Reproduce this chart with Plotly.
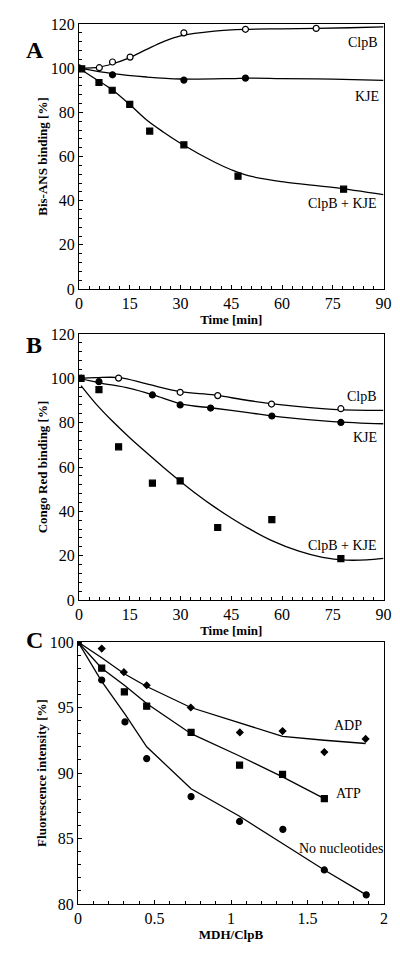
import plotly.graph_objects as go

# ---------- Panel A: Bis-ANS binding ----------
a_clpb_x = [0, 6, 9.9, 15.1, 31, 49.2, 70.1]
a_clpb_y = [100, 100.2, 102.8, 105, 116, 117.6, 118]
a_kje_x = [0, 9.9, 31, 49.2]
a_kje_y = [100, 97, 94.6, 95.5]
a_both_x = [0.8, 5.9, 9.8, 15, 20.9, 31, 47, 78.2]
a_both_y = [99.7, 93.5, 90, 83.6, 71.5, 65.3, 51.1, 45.2]
# fitted curves
a_clpb_fit_x = [0, 6, 10, 15, 20, 25, 30, 40, 50, 60, 70, 80, 90]
a_clpb_fit_y = [100, 100.5, 102, 104.8, 108.5, 112, 114.6, 116.8, 117.6, 117.8, 118, 118.3, 118.7]
a_kje_fit_x = [0, 10, 20, 30, 45, 50, 60, 75, 90]
a_kje_fit_y = [100, 97.5, 96, 95.1, 95.3, 95.5, 95.3, 95, 94.5]
a_both_fit_x = [0, 5, 10, 15, 20, 25, 30, 40, 45, 50, 60, 75, 90]
a_both_fit_y = [100, 95, 90, 83.5, 76.5, 71, 66, 57.5, 54, 51.3, 48.6, 46, 42.7]

# ---------- Panel B: Congo Red binding ----------
b_clpb_x = [0.6, 11.7, 29.9, 41, 56.9, 77.4]
b_clpb_y = [100, 100.1, 93.7, 92.2, 88.4, 86.3]
b_kje_x = [0.6, 5.9, 21.7, 29.9, 38.9, 57, 77.4]
b_kje_y = [100, 98.5, 92.5, 88, 86.6, 83, 80.1]
b_both_x = [0.6, 5.9, 11.7, 21.7, 29.9, 41, 57, 77.4]
b_both_y = [100, 94.9, 69.1, 52.7, 53.7, 32.7, 36.3, 18.7]
b_clpb_fit_x = [0, 5, 12, 20, 30, 40, 50, 60, 75, 90]
b_clpb_fit_y = [100, 100.3, 100.3, 97.5, 94, 92.5, 90, 88, 86, 85.5]
b_kje_fit_x = [0, 6, 15, 22, 30, 40, 50, 60, 75, 90]
b_kje_fit_y = [100, 98, 95.5, 92.5, 88.5, 86.5, 84.5, 82.5, 80.5, 79.5]
b_both_fit_x = [0.6, 5, 10, 15, 20, 25, 30, 35, 40, 45, 50, 57, 65, 72, 79, 85, 90]
b_both_fit_y = [96.7, 88.5, 80.5, 73.2, 66.4, 59.8, 53.5, 47.5, 42.0, 37.0, 32.4, 26.8, 22.0, 19.2, 18.0, 18.1, 18.8]

# ---------- Panel C: Fluorescence intensity ----------
c_adp_x = [0, 0.155, 0.30, 0.449, 0.737, 1.058, 1.337, 1.61, 1.88]
c_adp_y = [100, 99.5, 97.7, 96.7, 95.0, 93.1, 93.2, 91.6, 92.6]
c_atp_x = [0, 0.155, 0.303, 0.449, 0.739, 1.056, 1.337, 1.61]
c_atp_y = [100, 98.0, 96.2, 95.1, 93.1, 90.6, 89.9, 88.05]
c_none_x = [0, 0.155, 0.307, 0.449, 0.739, 1.056, 1.339, 1.61, 1.884]
c_none_y = [100, 97.1, 93.9, 91.1, 88.2, 86.3, 85.7, 82.6, 80.7]
c_adp_fit_y = [100, 98.8, 97.6, 96.6, 95.0, 93.8, 92.8, 92.5, 92.25]
c_atp_fit_y = [100, 98.0, 96.7, 95.3, 93.0, 91.3, 89.7, 88.05]
c_none_fit_y = [100, 97.0, 94.5, 92.0, 88.8, 86.7, 84.6, 82.6, 80.7]

FONT = "Liberation Serif, Times New Roman, Times, serif"
W, H, OFF = 392, 949, 8  # page body has an 8px margin


def px(x):
    return (x - OFF) / W


def py(y):
    return 1 - (y - OFF) / H


fig = go.Figure()


def line(x, y, xa, ya, shape="spline"):
    fig.add_trace(go.Scatter(x=x, y=y, mode="lines", xaxis=xa, yaxis=ya,
                             line=dict(color="black", width=1.3, shape=shape, smoothing=1.0),
                             showlegend=False, hoverinfo="skip"))


def pts(x, y, xa, ya, symbol, size, open_=False):
    fig.add_trace(go.Scatter(x=x, y=y, mode="markers", xaxis=xa, yaxis=ya,
                             marker=dict(symbol=symbol, size=size,
                                         color="white" if open_ else "black",
                                         line=dict(color="black", width=1.2)),
                             showlegend=False))


# A
line(a_clpb_fit_x, a_clpb_fit_y, "x", "y")
line(a_kje_fit_x, a_kje_fit_y, "x", "y")
line(a_both_fit_x, a_both_fit_y, "x", "y")
pts(a_clpb_x, a_clpb_y, "x", "y", "circle", 6, True)
pts(a_kje_x, a_kje_y, "x", "y", "circle", 6)
pts(a_both_x, a_both_y, "x", "y", "square", 6)
# B
line(b_clpb_fit_x, b_clpb_fit_y, "x2", "y2")
line(b_kje_fit_x, b_kje_fit_y, "x2", "y2")
line(b_both_fit_x, b_both_fit_y, "x2", "y2")
pts(b_clpb_x, b_clpb_y, "x2", "y2", "circle", 6, True)
pts(b_kje_x, b_kje_y, "x2", "y2", "circle", 6)
pts(b_both_x, b_both_y, "x2", "y2", "square", 6)
# C
line(c_adp_x, c_adp_fit_y, "x3", "y3", "linear")
line(c_atp_x, c_atp_fit_y, "x3", "y3", "linear")
line(c_none_x, c_none_fit_y, "x3", "y3", "linear")
pts(c_adp_x, c_adp_y, "x3", "y3", "diamond", 5)
pts(c_atp_x, c_atp_y, "x3", "y3", "square", 6)
pts(c_none_x, c_none_y, "x3", "y3", "circle", 6)

tickfont = dict(family=FONT, size=16, color="black")
titlefont = dict(family=FONT, size=13, color="black", weight="bold")


def xaxis(dom, rng, dtick, minor, title, anchor):
    return dict(domain=dom, range=rng, dtick=dtick, tick0=0, showgrid=False, zeroline=False,
                showline=True, linecolor="black", linewidth=1, mirror=True, automargin=False,
                ticks="inside", ticklen=4, tickcolor="black",
                minor=dict(dtick=minor, ticks="inside", ticklen=3, tickcolor="black"),
                tickfont=tickfont, anchor=anchor,
                title=dict(text=title, font=titlefont, standoff=0))


def yaxis(dom, rng, dtick, minor, title, anchor):
    return dict(domain=dom, range=rng, dtick=dtick, tick0=0, showgrid=False, zeroline=False,
                showline=True, linecolor="black", linewidth=1, mirror=True, automargin=False,
                ticks="inside", ticklen=4, tickcolor="black",
                minor=dict(dtick=minor, ticks="inside", ticklen=3, tickcolor="black"),
                tickfont=tickfont, anchor=anchor,
                title=dict(text=title, font=titlefont, standoff=0))


xd = [px(79), px(383.5)]
fig.update_layout(
    width=W, height=H, margin=dict(l=0, r=0, t=0, b=0, autoexpand=False),
    plot_bgcolor="white", paper_bgcolor="white",
    font=dict(family=FONT, color="black"),
    xaxis=xaxis(xd, [0, 90], 15, 3, "Time [min]", "y"),
    yaxis=yaxis([py(289), py(24)], [0, 120], 20, 4, "Bis-ANS binding [%]", "x"),
    xaxis2=xaxis(xd, [0, 90], 15, 3, "Time [min]", "y2"),
    yaxis2=yaxis([py(600), py(334)], [0, 120], 20, 4, "Congo Red binding [%]", "x2"),
    xaxis3=xaxis([px(78), px(384)], [0, 2], 0.5, 0.1, "MDH/ClpB", "y3"),
    yaxis3=yaxis([py(904), py(642)], [80, 100], 5, 1, "Fluorescence intensity [%]", "x3"),
)

lab = dict(family=FONT, size=14, color="black")
ann = [
    ("x", "y", 84, 111.8, "ClpB"), ("x", "y", 85, 87, "KJE"), ("x", "y", 78, 38.5, "ClpB + KJE"),
    ("x2", "y2", 83.5, 91.6, "ClpB"), ("x2", "y2", 84.4, 73.5, "KJE"), ("x2", "y2", 78, 24.8, "ClpB + KJE"),
    ("x3", "y3", 1.765, 93.6, "ADP"), ("x3", "y3", 1.765, 88.4, "ATP"), ("x3", "y3", 1.72, 84.2, "No nucleotides"),
]
for xr, yr, x, y, t in ann:
    fig.add_annotation(x=x, y=y, xref=xr, yref=yr, text=t, showarrow=False, font=lab)

big = dict(family=FONT, size=24, color="black", weight="bold")
for t, yp in [("A", 35), ("B", 345), ("C", 655)]:
    fig.add_annotation(x=px(24), y=py(yp), xref="paper", yref="paper", text=t,
                       showarrow=False, font=big)

fig.write_html("out.html")
